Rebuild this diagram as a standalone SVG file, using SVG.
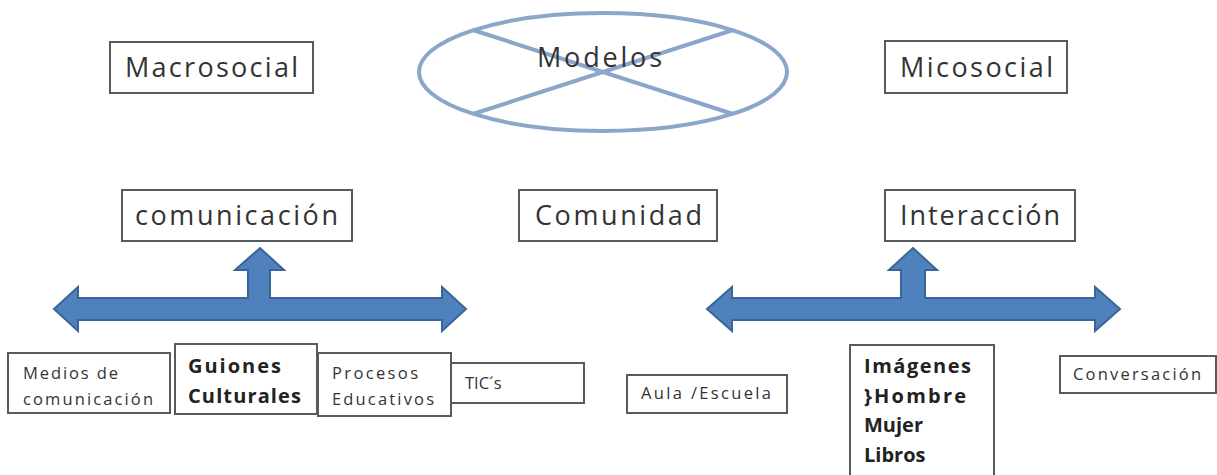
<svg xmlns="http://www.w3.org/2000/svg" width="1217" height="475" viewBox="0 0 1217 475">
<style>
.box{fill:#fff;stroke:#5a5a5a;stroke-width:2}
.t{font-family:"Open Sans","Liberation Sans",sans-serif;fill:#333}
.big{font-size:27px}
.sm{font-size:16.5px}
.bd{font-size:20px;font-weight:bold;fill:#222}
.arrow{fill:#4f81bd;stroke:#3a6598;stroke-width:2;stroke-linejoin:miter}
.ell{fill:none;stroke:#8ba6c9;stroke-width:4}
</style>
<rect width="1217" height="475" fill="#fff"/>
<g id="modelos">
<ellipse class="ell" cx="603" cy="72" rx="184" ry="59"/>
<line class="ell" x1="473" y1="30" x2="733" y2="114"/>
<line class="ell" x1="473" y1="114" x2="733" y2="30"/>
<text class="t" x="537" y="67" font-size="27" textLength="125" lengthAdjust="spacing">Modelos</text>
</g>
<g id="macrosocial">
<rect class="box" x="110" y="42" width="203" height="51"/>
<text class="t big" x="125" y="77" textLength="173" lengthAdjust="spacing">Macrosocial</text>
</g>
<g id="micosocial">
<rect class="box" x="885" y="41" width="182" height="52"/>
<text class="t big" x="900" y="77" textLength="153" lengthAdjust="spacing">Micosocial</text>
</g>
<g id="comunicacion">
<rect class="box" x="122" y="190" width="230" height="51"/>
<text class="t big" x="135" y="225" textLength="203" lengthAdjust="spacing">comunicación</text>
</g>
<g id="comunidad">
<rect class="box" x="519" y="190" width="198" height="51"/>
<text class="t big" x="535" y="225" textLength="167" lengthAdjust="spacing">Comunidad</text>
</g>
<g id="interaccion">
<rect class="box" x="885" y="190" width="190" height="51"/>
<text class="t big" x="900" y="225" textLength="160" lengthAdjust="spacing">Interacción</text>
</g>
<g id="connectors">
<polygon class="arrow" points="54,309 78,287 78,298 248,298 248,270 235,270 260,248 284,270 270,270 270,298 442,298 442,287 466,309 442,331 442,320 78,320 78,331"/>
<polygon class="arrow" points="707,309 732,287 732,298 901,298 901,270 889,270 913,248 937,270 925,270 925,298 1095,298 1095,287 1120,309 1095,331 1095,320 732,320 732,331"/>
</g>
<g id="medios">
<rect class="box" x="8" y="353" width="162" height="60"/>
<text class="t sm" x="23" y="379" textLength="95" lengthAdjust="spacing">Medios de</text>
<text class="t sm" x="23" y="405" textLength="130" lengthAdjust="spacing">comunicación</text>
</g>
<g id="guiones">
<rect class="box" x="175" y="344" width="142" height="70"/>
<text class="t bd" x="188" y="373" textLength="93" lengthAdjust="spacing">Guiones</text>
<text class="t bd" x="188" y="403" textLength="113" lengthAdjust="spacing">Culturales</text>
</g>
<g id="procesos">
<rect class="box" x="318" y="353" width="133" height="63"/>
<text class="t sm" x="332" y="379" textLength="86" lengthAdjust="spacing">Procesos</text>
<text class="t sm" x="332" y="405" textLength="102" lengthAdjust="spacing">Educativos</text>
</g>
<g id="tics">
<rect class="box" x="451" y="363" width="133" height="40"/>
<text class="t sm" x="465" y="389">TIC´s</text>
</g>
<g id="aula">
<rect class="box" x="627" y="375" width="160" height="38"/>
<text class="t sm" x="641" y="399" textLength="130" lengthAdjust="spacing">Aula /Escuela</text>
</g>
<g id="imagenes">
<rect class="box" x="850" y="345" width="144" height="135"/>
<text class="t bd" x="864" y="373" textLength="107" lengthAdjust="spacing">Imágenes</text>
<text class="t bd" x="864" y="403" textLength="102" lengthAdjust="spacing">}Hombre</text>
<text class="t bd" x="864" y="432">Mujer</text>
<text class="t bd" x="864" y="462">Libros</text>
</g>
<g id="conversacion">
<rect class="box" x="1060" y="356" width="156" height="37"/>
<text class="t sm" x="1073" y="380" textLength="128" lengthAdjust="spacing">Conversación</text>
</g>
</svg>
